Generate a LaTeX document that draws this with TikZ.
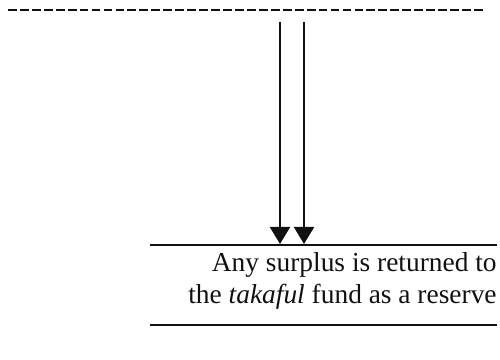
\documentclass[tikz,border=0pt]{standalone}
\usepackage{fontspec}
\setmainfont{Liberation Serif}
\usetikzlibrary{arrows.meta,positioning,calc}
\definecolor{ink}{HTML}{111111}

\begin{document}
\begin{tikzpicture}[
  >=Triangle, line cap=butt,
  rule/.style={draw=ink, line width=1.1pt},
  cutrule/.style={draw=ink, line width=1.6pt, dash pattern=on 5pt off 1.8pt},
  flow/.style={draw=ink, line width=1.2pt, -{Triangle[length=3.4mm, width=4.0mm]}},
  note/.style={font=\fontsize{15.6}{18.6}\selectfont, text=ink, align=right,
               anchor=east, inner sep=0pt}]
\useasboundingbox (0,0) rectangle (10,7.2);

% ==================================================== upper boundary
\coordinate (cutL) at (0.16,7.0);
\coordinate (cutR) at (9.70,7.0);
\draw[cutrule] (cutL) -- (cutR);

% ==================================================== the surplus box
\coordinate (boxTL) at (3.0,2.3);
\coordinate (boxTR) at (9.94,2.3);
\coordinate (boxBL) at (3.0,0.7);
\coordinate (boxBR) at (9.94,0.7);
\draw[rule] (boxTL) -- (boxTR);
\draw[rule] (boxBL) -- (boxBR);
\node[note] (surplus) at (9.94,1.58)
  {Any surplus is returned to\\
   the \textit{takaful} fund as a reserve};

% two arrows down into the box
\coordinate (srcA) at (5.60,6.76);
\coordinate (srcB) at (6.08,6.76);
\coordinate (dstA) at (5.60,2.32);
\coordinate (dstB) at (6.08,2.32);
\draw[flow] (srcA) -- (dstA);
\draw[flow] (srcB) -- (dstB);

\end{tikzpicture}
\end{document}
